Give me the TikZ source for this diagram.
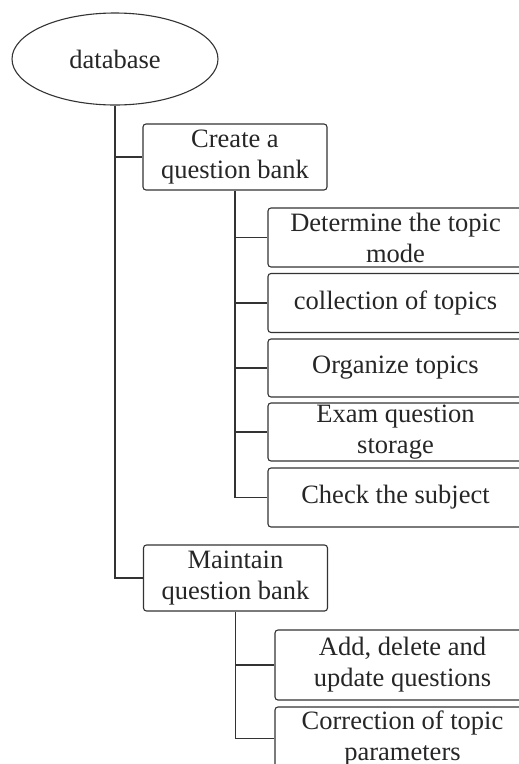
\documentclass[tikz,border=0pt]{standalone}
\usepackage{fontspec}
\setmainfont{Liberation Serif}
\usepackage{tikz}
\usetikzlibrary{shapes.geometric}

\tikzset{
  line/.style={draw=black!80, line width=1.1pt},
  dbnode/.style={ellipse, line, minimum width=206pt, minimum height=92pt, inner sep=0pt},
  bankbox/.style={rectangle, line, rounded corners=3pt, align=center, inner sep=0pt,
    minimum width=184pt, minimum height=66pt},
  topicbox/.style={bankbox, minimum width=255pt, minimum height=59pt},
}

\begin{document}
\begin{tikzpicture}[x=1pt, y=-1pt, font=\fontsize{26.5}{31}\selectfont, text=black!85]
		\useasboundingbox (0, 0) rectangle (519, 764);
		\clip (0, 0) rectangle (519, 764);

		\node [dbnode] (db) at (115, 59) {database};

		\node [bankbox] (create) at (235, 157) {Create a\\question bank};
		\node [bankbox] (maintain) at (235.5, 578) {Maintain\\question bank};

		% topics under the first bank
		\node [topicbox] (mode) at (395.5, 237.5) {Determine the topic\\mode};
		\node [topicbox] (collect) at (395.5, 303) {collection of topics};
		\node [topicbox, minimum height=58pt] (organize) at (395.5, 368) {Organize topics};
		\node [topicbox, minimum height=58pt] (storage) at (395.5, 432) {Exam question\\storage};
		\node [topicbox] (check) at (395.5, 497.5) {Check the subject};

		% topics under the second bank
		\node [topicbox, minimum height=70pt] (update) at (402.5, 665) {Add, delete and\\update questions};
		\node [topicbox, minimum height=63pt] (params) at (402.5, 738.5) {Correction of topic\\parameters};

		\draw [line] (db.south) |- (maintain.west);
		\draw [line] (db.south |- create.west) -- (create.west);

		\draw [line] (create.south) |- (check.west);
		\foreach \t in {mode, collect, organize, storage}
			\draw [line] (create.south |- \t.west) -- (\t.west);

		\draw [line] (maintain.south) |- (params.west);
		\draw [line] (maintain.south |- update.west) -- (update.west);

	\end{tikzpicture}
\end{document}
